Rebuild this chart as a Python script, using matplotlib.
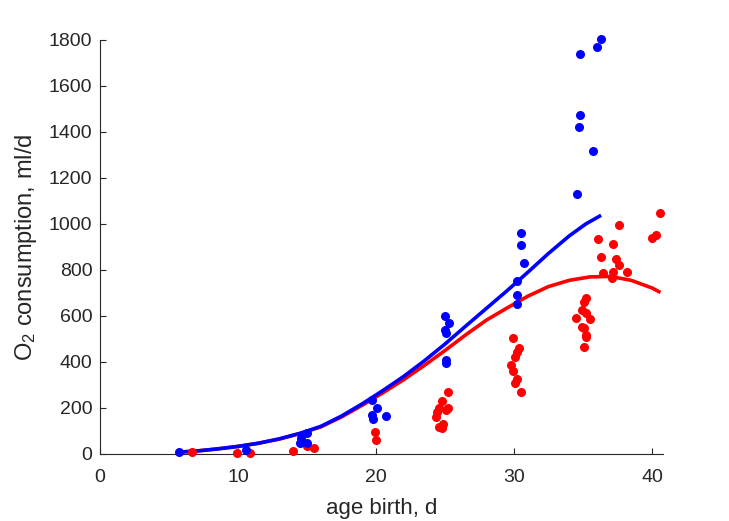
import numpy as np
import matplotlib
matplotlib.use('Agg')
import matplotlib.pyplot as plt

# measured data: age at birth (d) vs O2 consumption (ml/d)
blue_age = [5.7, 10.6, 14.5, 14.6, 15.0, 15.0, 19.7, 20.06, 19.7, 19.8, 20.7,
            25.0, 25.3, 25.0, 25.1, 25.1, 25.1, 30.5, 30.5, 30.7, 30.2, 30.2, 30.2,
            36.3, 36.0, 34.8, 34.8, 34.7, 35.7, 34.6]
blue_o2 = [10, 17, 46, 68, 90, 49, 235, 199, 170, 152, 167,
           600, 568, 539, 526, 409, 396, 959, 909, 829, 752, 691, 652,
           1804, 1768, 1741, 1474, 1423, 1317, 1132]

red_age = [6.7, 9.9, 10.9, 14.0, 15.0, 15.5, 19.9, 20.0,
           24.35, 24.4, 24.6, 24.8, 25.2, 25.2, 25.06, 24.6, 24.85, 24.8,
           29.9, 30.4, 30.2, 30.07, 29.8, 29.9, 30.2, 30.1, 30.5,
           35.25, 35.1, 34.9, 35.25, 34.5, 35.5, 34.9, 35.1, 35.25, 35.2, 35.1,
           36.1, 37.2, 37.6, 36.3, 37.4, 37.6, 36.45, 37.1, 37.2, 38.2, 40.0, 40.3, 40.55]
red_o2 = [10, 6, 6, 14, 35, 27, 97, 61,
          162, 184, 199, 232, 271, 199, 191, 119, 130, 112,
          503, 462, 445, 423, 387, 362, 326, 307, 271,
          680, 662, 626, 612, 590, 587, 553, 546, 517, 510, 464,
          933, 912, 996, 858, 847, 822, 786, 764, 793, 790, 940, 952, 1046]

# model curves
blue_fit_age = [5.7, 7.0, 8.5, 10.0, 11.5, 13.0, 14.5, 16.0, 17.5, 19.0, 20.5, 22.0,
                23.5, 25.0, 26.5, 28.0, 29.5, 31.0, 32.5, 34.0, 35.2, 36.2]
blue_fit_o2 = [8, 13, 22, 33, 47, 66, 90, 120, 165, 218, 276, 337,
               405, 478, 556, 633, 710, 790, 872, 948, 1000, 1034]
red_fit_age = [5.7, 7.0, 8.5, 10.0, 11.5, 13.0, 14.5, 16.0, 17.5, 19.0, 20.5, 22.0,
               23.5, 25.0, 26.5, 28.0, 29.5, 31.0, 32.5, 34.0, 35.5, 37.0, 38.5, 40.0, 40.5]
red_fit_o2 = [8, 13, 22, 33, 47, 65, 89, 118, 161, 212, 266, 323,
              385, 450, 518, 582, 635, 686, 728, 755, 770, 772, 755, 722, 706]

plt.rcParams['font.family'] = ['Liberation Sans', 'DejaVu Sans']
plt.rcParams['mathtext.fontset'] = 'custom'
plt.rcParams['mathtext.rm'] = 'Liberation Sans'
plt.rcParams['mathtext.it'] = 'Liberation Sans:italic'
txt = '#262626'

fig = plt.figure(figsize=(7.29, 5.21), dpi=100)
ax = fig.add_axes([100/729, 1-454/521, 563/729, 414/521])

ax.plot(red_fit_age, red_fit_o2, color='red', lw=2.6, zorder=2)
ax.plot(blue_fit_age, blue_fit_o2, color='blue', lw=2.6, zorder=3)
ax.plot(red_age, red_o2, 'o', color='red', ms=6.5, mec='none', zorder=4, clip_on=False)
ax.plot(blue_age, blue_o2, 'o', color='blue', ms=6.5, mec='none', zorder=5, clip_on=False)

ax.set_xlim(0, 40.8)
ax.set_ylim(0, 1800)
ax.set_xticks([0, 10, 20, 30, 40])
ax.set_yticks(np.arange(0, 1801, 200))
ax.spines['top'].set_visible(False)
ax.spines['right'].set_visible(False)
for s in ['left', 'bottom']:
    ax.spines[s].set_color(txt)
    ax.spines[s].set_linewidth(0.8)
ax.tick_params(direction='in', length=4, width=0.8, colors=txt, labelsize=14)
ax.tick_params(axis='x', pad=10.5)
ax.tick_params(axis='y', pad=5.5)
ax.set_xlabel('age birth, d', fontsize=16, color=txt, labelpad=9)
ax.set_ylabel('O$_{\\mathrm{2}}$ consumption, ml/d', fontsize=17, color=txt, labelpad=7)

fig.savefig('out.png', dpi=100)
